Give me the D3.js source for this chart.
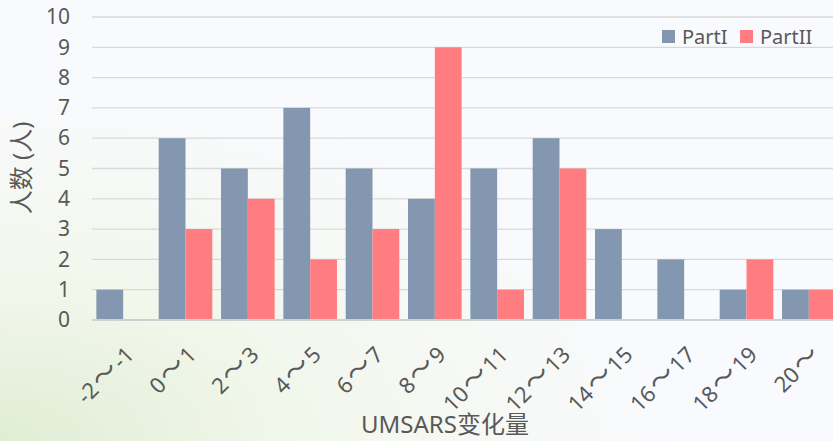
<!DOCTYPE html>
<html>
<head>
<meta charset="utf-8">
<script src="https://cdn.jsdelivr.net/npm/d3@7"></script>
<style>
  html, body { margin: 0; padding: 0; overflow: hidden; }
  body { width: 833px; height: 441px; }
</style>
</head>
<body>
<div id="container"></div>
<script>
// chart data
let categories = ["-2～-1", "0～1", "2～3", "4～5", "6～7", "8～9", "10～11", "12～13", "14～15", "16～17", "18～19", "20～"];
let partI = [1, 6, 5, 7, 5, 4, 5, 6, 3, 2, 1, 1];
let partII = [0, 3, 4, 2, 3, 9, 1, 5, 0, 0, 2, 1];
let seriesNames = ["PartI", "PartII"];
let yTicks = [0, 1, 2, 3, 4, 5, 6, 7, 8, 9, 10];

let width = 833;
let height = 441;
let colors = ["#8497b0", "#ff7c80"];
let font = "'Noto Sans', 'Noto Sans CJK SC', sans-serif";
let cjkFont = "'Noto Sans CJK SC', 'Noto Sans CJK JP', sans-serif";
let textColor = "#595959";

let svg = d3.select("#container")
    .append("svg")
    .attr("width", width)
    .attr("height", height)
    .style("font-family", font);

//background with a soft green glow at bottom left
let defs = svg.append("defs");
let grad = defs.append("radialGradient")
    .attr("id", "bg")
    .attr("cx", "0%").attr("cy", "100%").attr("r", "80%")
    .attr("gradientUnits", "objectBoundingBox");
grad.append("stop").attr("offset", "0%").attr("stop-color", "#e0edd4");
grad.append("stop").attr("offset", "45%").attr("stop-color", "#f2f7ec");
grad.append("stop").attr("offset", "100%").attr("stop-color", "#f9fafd");
svg.append("rect").attr("width", width).attr("height", height).attr("fill", "url(#bg)");

//scales
let x = d3.scaleBand()
    .domain(categories)
    .range([92, 840])
    .paddingInner(0.14)
    .paddingOuter(0.07);

let sub = d3.scaleBand()
    .domain(seriesNames)
    .range([0, x.bandwidth()]);

let y = d3.scaleLinear()
    .domain([0, 10])
    .range([320, 17]);

//gridlines
svg.append("g")
    .selectAll("line")
    .data(yTicks.slice(1))
    .enter()
    .append("line")
    .attr("x1", 92)
    .attr("x2", width)
    .attr("y1", d => y(d))
    .attr("y2", d => y(d))
    .attr("stroke", "#d9d9d9")
    .attr("stroke-width", 1.3);

//y labels
let yAxis = svg.append("g")
    .attr("transform", "translate(76,0)")
    .call(d3.axisLeft(y).tickValues(yTicks).tickSize(0).tickPadding(6));
yAxis.select(".domain").remove();
yAxis.selectAll("text")
    .attr("fill", textColor)
    .style("font-size", "21px")
    .style("font-family", font);

//bars
let rows = categories.map((c, i) => ({ cat: c, vals: [partI[i], partII[i]] }));
let groups = svg.append("g")
    .selectAll("g")
    .data(rows)
    .enter()
    .append("g")
    .attr("transform", d => "translate(" + x(d.cat) + ",0)");

groups.selectAll("rect")
    .data(d => d.vals.map((v, k) => ({ name: seriesNames[k], v: v, k: k })))
    .enter()
    .append("rect")
    .attr("x", d => sub(d.name))
    .attr("width", sub.bandwidth())
    .attr("y", d => y(d.v))
    .attr("height", d => y(0) - y(d.v))
    .attr("fill", d => colors[d.k]);

//baseline
svg.append("line")
    .attr("x1", 92).attr("x2", width)
    .attr("y1", y(0)).attr("y2", y(0))
    .attr("stroke", "#d0d0d0")
    .attr("stroke-width", 2);

//x labels, the wave dash gets a wider CJK glyph
let xLabels = svg.append("g")
    .selectAll("text")
    .data(categories)
    .enter()
    .append("text")
    .attr("transform", d => "translate(" + (x(d) + x.bandwidth() / 2 + 1) + ",345) rotate(-45)")
    .attr("text-anchor", "end")
    .attr("dy", "0.72em")
    .attr("fill", textColor)
    .style("font-size", "22px");

xLabels.each(function (d) {
    let parts = d.split("～");
    let t = d3.select(this);
    t.append("tspan").text(parts[0]);
    t.append("tspan")
        .attr("dx", 2)
        .style("font-family", cjkFont)
        .style("font-size", "26px")
        .text("～");
    t.append("tspan").attr("dx", 2).text(parts[1]);
});

//axis titles
svg.append("text")
    .attr("x", 445)
    .attr("y", 433)
    .attr("text-anchor", "middle")
    .attr("fill", textColor)
    .style("font-size", "24px")
    .text("UMSARS变化量");

svg.append("text")
    .attr("transform", "translate(30,168) rotate(-90)")
    .attr("text-anchor", "middle")
    .attr("fill", textColor)
    .style("font-size", "24px")
    .text("人数 (人)");

//legend
let legend = svg.append("g")
    .selectAll("g")
    .data(seriesNames)
    .enter()
    .append("g")
    .attr("transform", (d, i) => "translate(" + (662 + i * 78) + ",30)");
legend.append("rect")
    .attr("width", 13)
    .attr("height", 13)
    .attr("fill", (d, i) => colors[i]);
legend.append("text")
    .attr("x", 20)
    .attr("y", 14)
    .attr("fill", textColor)
    .style("font-size", "20px")
    .text(d => d);
</script>
</body>
</html>
